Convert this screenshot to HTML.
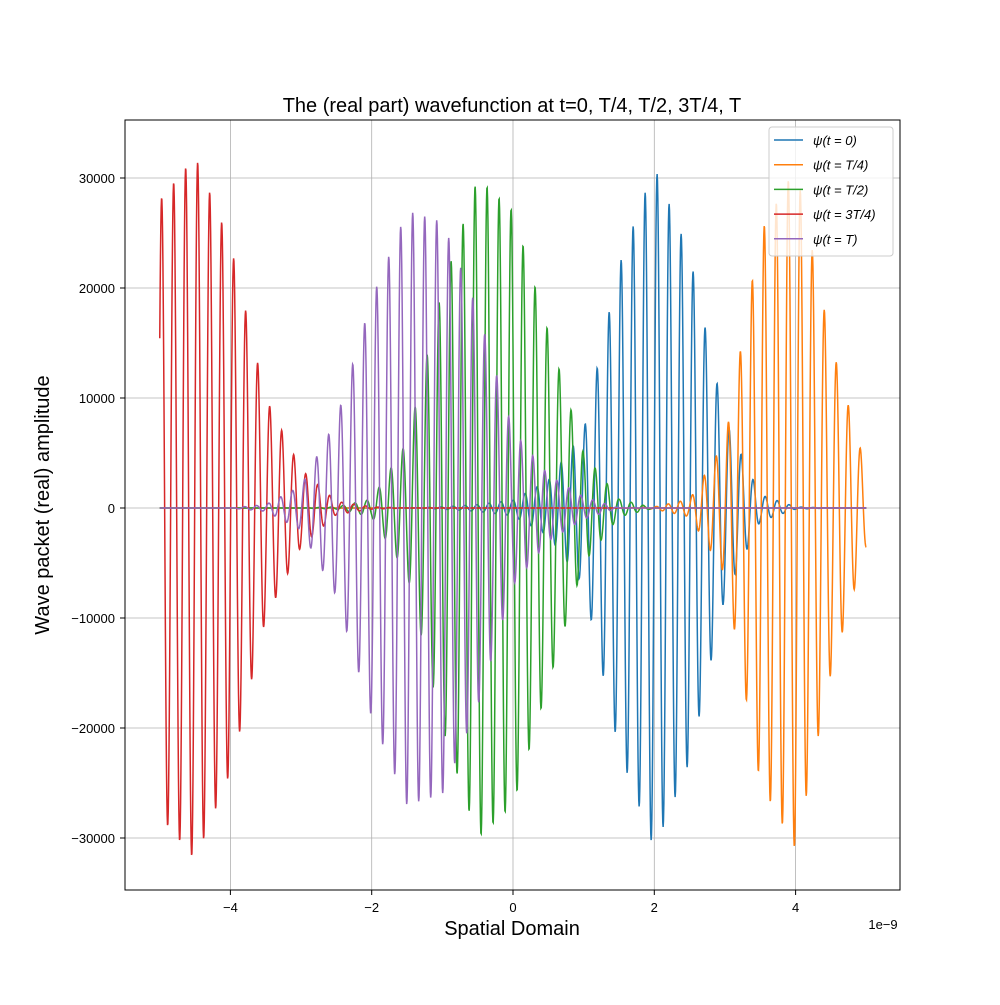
<!DOCTYPE html>
<html><head><meta charset="utf-8"><style>
body{margin:0;background:#fff}
svg text{font-family:"Liberation Sans","DejaVu Sans",sans-serif}
</style></head><body>
<svg id="c" width="1000" height="1000" xmlns="http://www.w3.org/2000/svg"></svg>
<script>
const envX=[-5,-4.5,-4,-3.5,-3,-2.5,-2,-1.5,-1,-0.5,0,0.5,1,1.5,2,2.5,3,3.5,4,4.5,5];
const envBlue=[0,0,0,0,0,0,0,0,100,300,700,2500,7000,22000,31000,23000,8000,1200,100,0,0];
const envOrange=[0,0,0,0,0,0,0,0,0,0,0,0,0,0,100,800,6000,25000,31000,15000,3500];
const envGreen=[0,0,0,0,0,100,800,6000,20000,30000,27000,16000,5000,800,0,0,0,0,0,0,0];
const envRed=[28000,32000,24000,10000,3500,600,100,0,0,0,0,0,0,0,0,0,0,0,0,0,0];
const envPurple=[0,0,0,300,2000,8000,19000,27000,26000,18000,7000,3000,1000,0,0,0,0,0,0,0,0];
const seriesNames=["ψ(t = 0)","ψ(t = T/4)","ψ(t = T/2)","ψ(t = 3T/4)","ψ(t = T)"];
const period=0.17;
const colors=["#1f77b4","#ff7f0e","#2ca02c","#d62728","#9467bd"];
const xTicks=[-4,-2,0,2,4];
const yTicks=[-30000,-20000,-10000,0,10000,20000,30000];
const L=125,R=900,T=120,B=890;
const xs=v=>513+v*70.65, ys=v=>508-v*0.011;
const svg=document.getElementById('c');
const NS="http://www.w3.org/2000/svg";
function mk(t,a,p){const e=document.createElementNS(NS,t);for(const k in a)e.setAttribute(k,a[k]);(p||svg).appendChild(e);return e;}
mk('text',{x:512,y:112,'font-size':20,'text-anchor':'middle',}).textContent="The (real part) wavefunction at t=0, T/4, T/2, 3T/4, T";
const grid=mk('g',{});
xTicks.forEach(v=>{const x=xs(v);
 mk('line',{x1:x,x2:x,y1:T,y2:B,stroke:'#b0b0b0','stroke-width':0.8},grid);
 mk('line',{x1:x,x2:x,y1:B,y2:B+5,stroke:'#000'});
 const t=mk('text',{x:x,y:912,'font-size':13,'text-anchor':'middle'});t.textContent=(v<0?'−':'')+Math.abs(v);
 });
yTicks.forEach(v=>{const y=ys(v);
 mk('line',{x1:L,x2:R,y1:y,y2:y,stroke:'#b0b0b0','stroke-width':0.8},grid);
 mk('line',{x1:L-5,x2:L,y1:y,y2:y,stroke:'#000'});
 const t=mk('text',{x:115,y:y+5,'font-size':13,'text-anchor':'end'});t.textContent=(v<0?'−':'')+Math.abs(v);
 });
const envs=[envBlue,envOrange,envGreen,envRed,envPurple];
const phases=[0,0.5,1,1.6,2.2];
function env(arr,x){if(x<=envX[0])return arr[0];for(let i=0;i<envX.length-1;i++){if(x<=envX[i+1]){const f=(x-envX[i])/(envX[i+1]-envX[i]);return arr[i]*(1-f)+arr[i+1]*f;}}return arr[arr.length-1];}
envs.forEach((arr,si)=>{let d='';for(let i=0;i<=2000;i++){const x=-5+i*0.005;const y=env(arr,x)*Math.cos(2*Math.PI*x/period+phases[si]);d+=(i?'L':'M')+xs(x).toFixed(2)+','+ys(y).toFixed(2);}
 const p=mk('path',{d:d,fill:'none',stroke:colors[si],'stroke-width':1.5});
 });
mk('rect',{x:L,y:T,width:R-L,height:B-T,fill:'none',stroke:'#000','stroke-width':1,});
mk('text',{x:883,y:929,'font-size':13,'text-anchor':'middle',}).textContent="1e−9";
mk('text',{x:512,y:935,'font-size':20,'text-anchor':'middle',}).textContent="Spatial Domain";
mk('text',{x:0,y:0,'font-size':20,'text-anchor':'middle',transform:'translate(49,505) rotate(-90)',}).textContent="Wave packet (real) amplitude";
const lg=mk('g',{});
mk('rect',{x:769,y:127,width:124,height:129,rx:3,fill:'rgba(255,255,255,0.8)',stroke:'#ccc'},lg);
seriesNames.forEach((n,i)=>{const y=140+i*24.7;
 const g=mk('g',{},lg);
 mk('line',{x1:774,x2:803,y1:y,y2:y,stroke:colors[i],'stroke-width':1.5},g);
 const t=mk('text',{x:813,y:y+5,'font-size':13,'font-style':'italic'},g);t.textContent=n;});
</script>
</body></html>
